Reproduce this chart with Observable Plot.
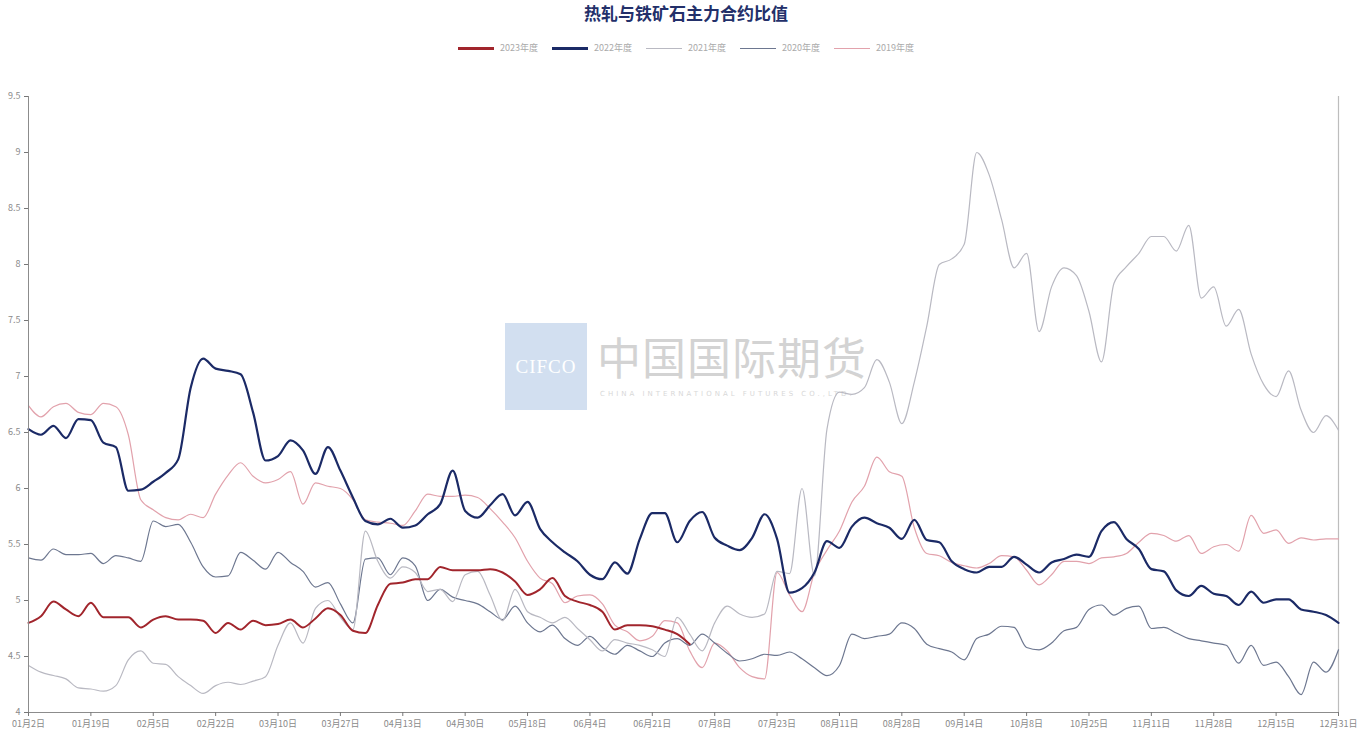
<!DOCTYPE html>
<html><head><meta charset="utf-8">
<script src="https://cdn.jsdelivr.net/npm/d3@7"></script>
<script src="https://cdn.jsdelivr.net/npm/@observablehq/plot@0.6"></script>
<style>
body{margin:0;background:#fff;font-family:"Noto Sans CJK SC","Noto Sans",sans-serif;}
#wrap{position:relative;width:1360px;height:736px;overflow:hidden;}
#title{position:absolute;left:0;top:0;width:1372px;text-align:center;font-size:17px;font-weight:bold;color:#23306a;line-height:26px;}
#legend{position:absolute;top:40px;left:0;width:1372px;display:flex;justify-content:center;gap:14px;font-size:9px;color:#aaa;line-height:16px;}
.item{display:flex;align-items:center;gap:6px}
.sw{width:36px;height:0;}
#chart{position:absolute;top:70px;left:0;}
#wmbox{position:absolute;left:505px;top:323px;width:82px;height:87px;background:#d2dff0;color:#fff;font-family:"Liberation Serif",serif;font-size:19px;line-height:87px;text-align:center;letter-spacing:1px;}
#wmtext{position:absolute;left:597px;top:328px;font-size:44px;color:#d3d3d3;letter-spacing:1px;line-height:56px;}
#wmsub{position:absolute;left:600px;top:390px;font-size:7px;color:#d8d8d8;letter-spacing:3px;font-family:"DejaVu Sans",sans-serif;}
</style></head>
<body>
<div id="wrap">
  <div id="wmbox">CIFCO</div>
  <div id="wmtext">中国国际期货</div>
  <div id="wmsub">CHINA INTERNATIONAL FUTURES CO.,LTD.</div>
  <div id="title">热轧与铁矿石主力合约比值</div>
  <div id="legend"></div>
  <div id="chart"></div>
</div>
<script>
const xLabels = ["01月2日","01月19日","02月5日","02月22日","03月10日","03月27日","04月13日","04月30日","05月18日","06月4日","06月21日","07月8日","07月23日","08月11日","08月28日","09月14日","10月8日","10月25日","11月11日","11月28日","12月15日","12月31日"];
const yTicks = [4,4.5,5,5.5,6,6.5,7,7.5,8,8.5,9,9.5];
const seriesNames = ["2023年度","2022年度","2021年度","2020年度","2019年度"];

const v2023 = [4.80,4.86,4.99,4.92,4.86,4.98,4.85,4.85,4.85,4.76,
4.83,4.86,4.83,4.83,4.82,4.71,4.80,4.74,4.82,4.78,
4.79,4.83,4.76,4.84,4.93,4.87,4.73,4.71,4.96,5.15,
5.16,5.19,5.19,5.30,5.27,5.27,5.27,5.28,5.25,5.17,
5.05,5.10,5.20,5.04,4.99,4.96,4.90,4.74,4.78,4.78,
4.77,4.74,4.70,4.61];

const v2022 = [6.53,6.48,6.56,6.45,6.62,6.61,6.41,6.37,5.98,5.99,
6.06,6.14,6.26,6.90,7.16,7.07,7.05,7.02,6.68,6.25,
6.29,6.43,6.34,6.13,6.37,6.16,5.92,5.71,5.68,5.73,
5.65,5.67,5.77,5.86,6.16,5.80,5.74,5.85,5.95,5.76,
5.88,5.64,5.52,5.43,5.35,5.23,5.19,5.34,5.24,5.55,
5.78,5.78,5.52,5.71,5.79,5.56,5.49,5.45,5.56,5.77,
5.55,5.07,5.11,5.25,5.53,5.47,5.66,5.74,5.69,5.65,
5.55,5.72,5.54,5.52,5.35,5.28,5.25,5.30,5.30,5.39,
5.32,5.25,5.34,5.37,5.41,5.39,5.62,5.70,5.55,5.46,
5.28,5.26,5.09,5.04,5.13,5.06,5.04,4.96,5.08,4.98,
5.01,5.01,4.92,4.90,4.87,4.80];

const v2021 = [4.42,4.36,4.33,4.30,4.22,4.21,4.19,4.24,4.47,4.55,
4.44,4.43,4.32,4.24,4.17,4.24,4.27,4.25,4.28,4.32,
4.60,4.80,4.62,4.93,5.00,4.85,4.74,5.62,5.35,5.20,
5.30,5.25,5.08,5.10,4.99,5.23,5.26,5.05,4.82,5.10,
4.90,4.85,4.80,4.85,4.75,4.65,4.55,4.65,4.62,4.60,
4.56,4.50,4.85,4.70,4.55,4.80,4.95,4.88,4.85,4.88,
5.26,5.24,6.00,5.22,6.53,6.86,6.84,6.90,7.15,6.95,
6.58,6.95,7.45,8.00,8.05,8.18,9.00,8.80,8.40,7.97,
8.10,7.40,7.80,7.97,7.90,7.58,7.13,7.83,7.98,8.10,
8.25,8.25,8.12,8.35,7.70,7.80,7.45,7.60,7.20,6.93,
6.82,7.05,6.70,6.50,6.65,6.52];

const v2020 = [5.38,5.36,5.46,5.41,5.41,5.42,5.33,5.40,5.38,5.35,
5.71,5.66,5.68,5.52,5.30,5.21,5.22,5.43,5.36,5.28,
5.43,5.34,5.26,5.12,5.16,4.97,4.80,5.37,5.38,5.23,
5.38,5.31,5.00,5.10,5.03,5.00,4.97,4.90,4.83,4.95,
4.80,4.72,4.78,4.66,4.60,4.68,4.58,4.52,4.60,4.55,
4.50,4.62,4.66,4.60,4.70,4.62,4.53,4.46,4.48,4.52,
4.51,4.54,4.48,4.40,4.33,4.42,4.70,4.66,4.68,4.70,
4.80,4.75,4.61,4.57,4.54,4.47,4.66,4.70,4.77,4.76,
4.58,4.56,4.62,4.73,4.76,4.92,4.96,4.87,4.93,4.95,
4.75,4.76,4.71,4.66,4.64,4.62,4.60,4.44,4.60,4.42,
4.45,4.32,4.16,4.45,4.36,4.56];

const v2019 = [6.74,6.64,6.73,6.76,6.68,6.66,6.76,6.73,6.48,5.90,
5.81,5.74,5.72,5.77,5.74,5.95,6.12,6.23,6.11,6.05,
6.08,6.15,5.86,6.05,6.02,6.00,5.90,5.72,5.70,5.69,
5.67,5.80,5.95,5.93,5.93,5.94,5.92,5.82,5.70,5.56,
5.35,5.20,5.15,4.98,5.04,5.05,4.97,4.78,4.72,4.64,
4.68,4.82,4.80,4.55,4.40,4.62,4.55,4.40,4.32,4.30,
5.25,5.05,4.90,5.25,5.45,5.62,5.88,6.02,6.28,6.15,
6.11,5.65,5.42,5.40,5.34,5.31,5.29,5.33,5.40,5.39,
5.27,5.14,5.23,5.35,5.35,5.33,5.38,5.39,5.42,5.52,
5.60,5.58,5.53,5.58,5.42,5.48,5.50,5.44,5.76,5.60,
5.63,5.51,5.56,5.54,5.55,5.55];

const colors = {"2023年度":"#a1252c","2022年度":"#1b2a66","2021年度":"#b9b9c2","2020年度":"#6d7790","2019年度":"#e2a2ac"};
const widths = {"2023年度":2,"2022年度":2.2,"2021年度":1.2,"2020年度":1.2,"2019年度":1.2};
const valuesByName = {"2023年度":v2023,"2022年度":v2022,"2021年度":v2021,"2020年度":v2020,"2019年度":v2019};
const STEP = 2; // data step in axis units (10 units per labelled tick)

// legend
const leg = document.getElementById("legend");
for (const n of seriesNames) {
  const it = document.createElement("div"); it.className = "item";
  const sw = document.createElement("div"); sw.className = "sw";
  sw.style.borderTop = `${widths[n] >= 2 ? 3 : 1.5}px solid ${colors[n]}`;
  const tx = document.createElement("span"); tx.textContent = n;
  it.append(sw, tx); leg.append(it);
}

const drawOrder = ["2019年度","2020年度","2021年度","2022年度","2023年度"];
const lineMarks = drawOrder.map(n => Plot.line(
  valuesByName[n].map((v, i) => ({u: i * STEP, v})),
  {x: "u", y: "v", stroke: colors[n], strokeWidth: widths[n], curve: "monotone-x"}
));

const chart = Plot.plot({
  width: 1360, height: 666,
  marginLeft: 28, marginRight: 22, marginTop: 26, marginBottom: 24,
  style: {background: "transparent", fontSize: "9px", color: "#8a8a8a", fontFamily: "'Noto Sans CJK SC', sans-serif"},
  x: {domain: [0, 210]},
  y: {domain: [4, 9.5]},
  marks: [
    Plot.ruleX([210], {stroke: "#bdbdbd", strokeWidth: 1.2}),
    ...lineMarks,
    Plot.ruleX([0], {stroke: "#8c8c8c"}),
    Plot.ruleY([4], {stroke: "#8c8c8c"}),
    Plot.axisY({ticks: yTicks, tickSize: 4, tickPadding: 4, tickFormat: d => String(d), stroke: "#777", label: null}),
    Plot.axisX({ticks: d3.range(0, 211, 10), tickSize: 4, tickPadding: 4, tickFormat: d => xLabels[Math.round(d / 10)], stroke: "#777", label: null})
  ]
});
document.getElementById("chart").append(chart);
</script>
</body></html>
